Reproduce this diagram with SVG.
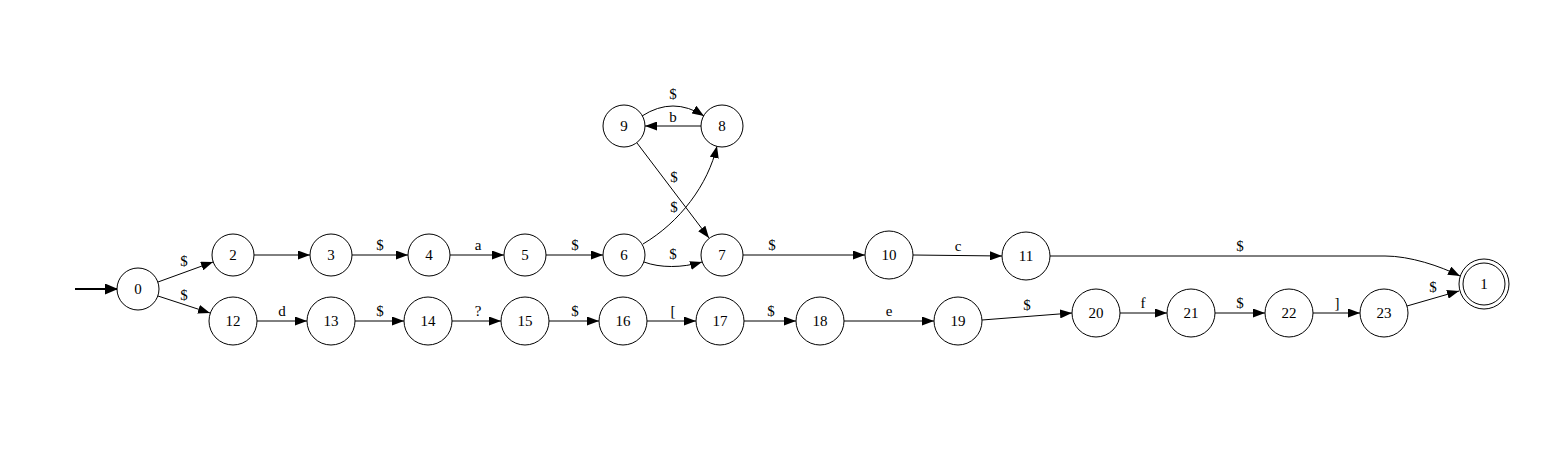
<svg xmlns="http://www.w3.org/2000/svg" width="1562" height="452" viewBox="0 0 1562 452">
<defs>
<marker id="ah" viewBox="0 0 12 9" refX="12" refY="4.5" markerWidth="12" markerHeight="9" markerUnits="userSpaceOnUse" orient="auto">
<path d="M0,0 L12,4.5 L0,9 z" fill="#000"/>
</marker>
<marker id="ahb" viewBox="0 0 13 11" refX="13" refY="5.5" markerWidth="13" markerHeight="11" markerUnits="userSpaceOnUse" orient="auto">
<path d="M0,0 L13,5.5 L0,11 z" fill="#000"/>
</marker>
</defs>
<style>
.n{fill:#fff;stroke:#000;stroke-width:1}
.t{font-family:"Liberation Serif","Times New Roman",serif;font-size:15px;text-anchor:middle;fill:#000}
.e{fill:none;stroke:#000;stroke-width:1;marker-end:url(#ah)}
.l{font-family:"Liberation Serif","Times New Roman",serif;font-size:15px;text-anchor:middle;fill:#000}
</style>
<rect width="1562" height="452" fill="#fff"/>
<g id="connectors">
<path d="M75,289 L118,289" style="fill:none;stroke:#000;stroke-width:2;marker-end:url(#ahb)"/>
<path class="e" d="M158,282 L213,262"/><text class="l" x="184" y="266">$</text>
<path class="e" d="M158,296 L210,313"/><text class="l" x="184" y="300">$</text>
<path class="e" d="M254,255 L310,255"/>
<path class="e" d="M352,255 L408,255"/><text class="l" x="380" y="250">$</text>
<path class="e" d="M450,255 L504,255"/><text class="l" x="478" y="250">a</text>
<path class="e" d="M546,255 L603,255"/><text class="l" x="575" y="250">$</text>
<path class="e" d="M644,262 C660,268 682,268 702,262"/><text class="l" x="673" y="259">$</text>
<path class="e" d="M643,244 C680,222 708,185 717,146"/><text class="l" x="674" y="212">$</text>
<path class="e" d="M637,143 L709,238"/><text class="l" x="674" y="182">$</text>
<path class="e" d="M642,116 Q673,96 704,116"/><text class="l" x="673" y="99">$</text>
<path class="e" d="M701,126 L645,126"/><text class="l" x="673" y="122">b</text>
<path class="e" d="M743,255 L865,255"/><text class="l" x="772" y="250">$</text>
<path class="e" d="M913,255 L1002,256"/><text class="l" x="958" y="251">c</text>
<path class="e" d="M1050,256 L1385,256 C1410,256 1440,266 1460,276"/><text class="l" x="1240" y="251">$</text>
<path class="e" d="M257,321 L307,321"/><text class="l" x="282" y="316">d</text>
<path class="e" d="M355,321 L404,321"/><text class="l" x="380" y="316">$</text>
<path class="e" d="M452,321 L501,321"/><text class="l" x="478" y="316">?</text>
<path class="e" d="M549,321 L599,321"/><text class="l" x="575" y="316">$</text>
<path class="e" d="M647,321 L696,321"/><text class="l" x="673" y="316">[</text>
<path class="e" d="M744,321 L796,321"/><text class="l" x="771" y="316">$</text>
<path class="e" d="M844,321 L934,321"/><text class="l" x="889" y="316">e</text>
<path class="e" d="M982,320 L1072,313"/><text class="l" x="1027" y="310">$</text>
<path class="e" d="M1120,313 L1167,313"/><text class="l" x="1143" y="308">f</text>
<path class="e" d="M1215,313 L1265,313"/><text class="l" x="1240" y="308">$</text>
<path class="e" d="M1313,313 L1360,313"/><text class="l" x="1337" y="308">]</text>
<path class="e" d="M1407,306 L1459,291"/><text class="l" x="1433" y="292">$</text>
</g>
<g id="n0"><circle class="n" cx="138" cy="289" r="21"/><text class="t" x="138" y="294">0</text></g>
<g id="n1"><circle class="n" cx="1484" cy="284" r="25"/><circle class="n" cx="1484" cy="284" r="21"/><text class="t" x="1484" y="289">1</text></g>
<g id="n2"><circle class="n" cx="233" cy="255" r="21"/><text class="t" x="233" y="260">2</text></g>
<g id="n3"><circle class="n" cx="331" cy="255" r="21"/><text class="t" x="331" y="260">3</text></g>
<g id="n4"><circle class="n" cx="429" cy="255" r="21"/><text class="t" x="429" y="260">4</text></g>
<g id="n5"><circle class="n" cx="525" cy="255" r="21"/><text class="t" x="525" y="260">5</text></g>
<g id="n6"><circle class="n" cx="624" cy="255" r="21"/><text class="t" x="624" y="260">6</text></g>
<g id="n7"><circle class="n" cx="722" cy="255" r="21"/><text class="t" x="722" y="260">7</text></g>
<g id="n8"><circle class="n" cx="722" cy="126" r="21"/><text class="t" x="722" y="131">8</text></g>
<g id="n9"><circle class="n" cx="624" cy="126" r="21"/><text class="t" x="624" y="131">9</text></g>
<g id="n10"><circle class="n" cx="889" cy="255" r="24"/><text class="t" x="889" y="260">10</text></g>
<g id="n11"><circle class="n" cx="1026" cy="256" r="24"/><text class="t" x="1026" y="261">11</text></g>
<g id="n12"><circle class="n" cx="233" cy="321" r="24"/><text class="t" x="233" y="326">12</text></g>
<g id="n13"><circle class="n" cx="331" cy="321" r="24"/><text class="t" x="331" y="326">13</text></g>
<g id="n14"><circle class="n" cx="428" cy="321" r="24"/><text class="t" x="428" y="326">14</text></g>
<g id="n15"><circle class="n" cx="525" cy="321" r="24"/><text class="t" x="525" y="326">15</text></g>
<g id="n16"><circle class="n" cx="623" cy="321" r="24"/><text class="t" x="623" y="326">16</text></g>
<g id="n17"><circle class="n" cx="720" cy="321" r="24"/><text class="t" x="720" y="326">17</text></g>
<g id="n18"><circle class="n" cx="820" cy="321" r="24"/><text class="t" x="820" y="326">18</text></g>
<g id="n19"><circle class="n" cx="958" cy="321" r="24"/><text class="t" x="958" y="326">19</text></g>
<g id="n20"><circle class="n" cx="1096" cy="313" r="24"/><text class="t" x="1096" y="318">20</text></g>
<g id="n21"><circle class="n" cx="1191" cy="313" r="24"/><text class="t" x="1191" y="318">21</text></g>
<g id="n22"><circle class="n" cx="1289" cy="313" r="24"/><text class="t" x="1289" y="318">22</text></g>
<g id="n23"><circle class="n" cx="1384" cy="313" r="24"/><text class="t" x="1384" y="318">23</text></g>
</svg>
